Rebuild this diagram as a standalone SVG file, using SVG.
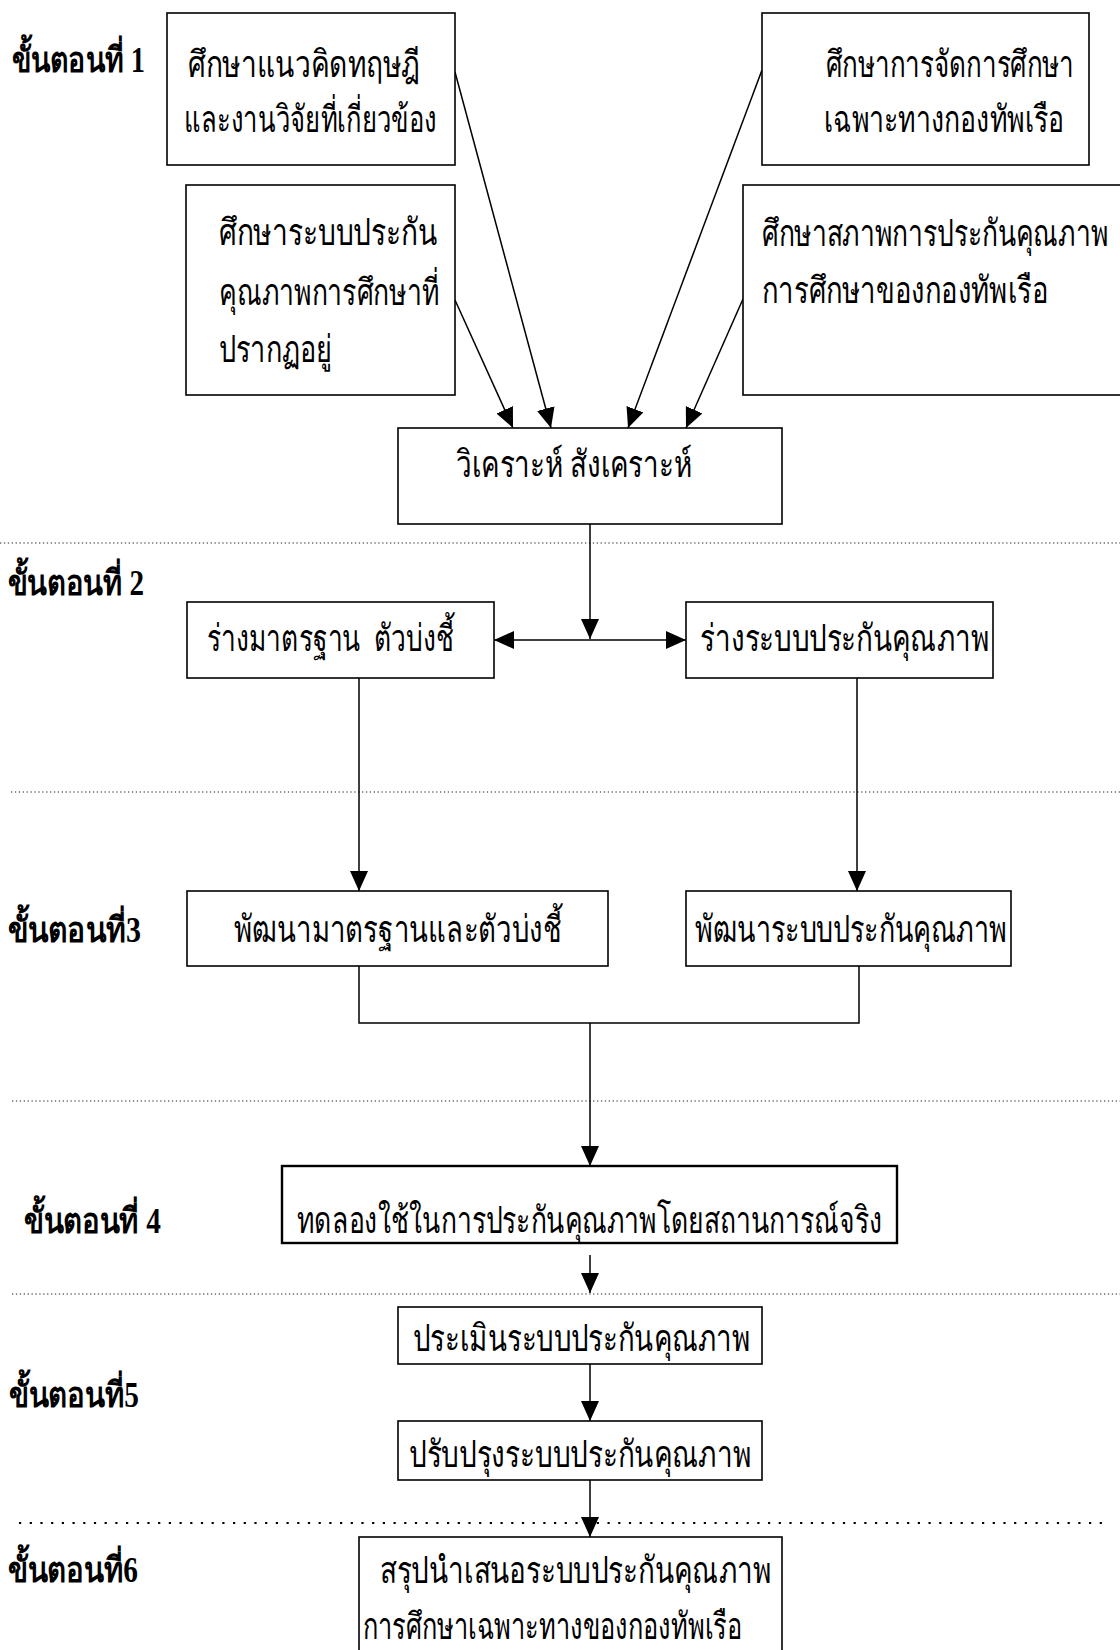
<svg xmlns="http://www.w3.org/2000/svg" width="1120" height="1650" viewBox="0 0 1120 1650">
<defs>
<marker id="ah" viewBox="0 0 20 18" refX="20" refY="9" markerWidth="20" markerHeight="18" markerUnits="userSpaceOnUse" orient="auto-start-reverse">
<path d="M0,0 L20,9 L0,18 z" fill="#000"/>
</marker>
<style>
.box{fill:#fff;stroke:#000;stroke-width:1.6}
.thick{stroke-width:2.4}
.t{font-family:"Liberation Serif","DejaVu Serif",serif;font-size:26px;fill:#000}
.lbl{font-family:"Liberation Serif","DejaVu Serif",serif;font-size:27px;font-weight:bold;fill:#000}
.ln{fill:none;stroke:#000;stroke-width:1.5}
.arr{marker-end:url(#ah)}
.dot{stroke:#222;stroke-width:1.2;stroke-dasharray:1.3 2.6;fill:none}
.dot2{stroke:#000;stroke-width:2.2;stroke-dasharray:2.2 8.5;fill:none}
</style>
</defs>
<rect width="1120" height="1650" fill="#fff"/>

<g id="separators">
<line class="dot" x1="0" y1="543" x2="1120" y2="543"/>
<line class="dot" x1="11" y1="792" x2="1120" y2="792"/>
<line class="dot" x1="12" y1="1101" x2="1120" y2="1101"/>
<line class="dot" x1="12" y1="1294" x2="1120" y2="1294"/>
<line class="dot2" x1="19" y1="1523" x2="1108" y2="1523"/>
</g>

<g id="labels">
<text class="lbl" transform="translate(12,72) scale(1,1.3)" textLength="133" lengthAdjust="spacingAndGlyphs">ขั้นตอนที่ 1</text>
<text class="lbl" transform="translate(8,595) scale(1,1.3)" textLength="136" lengthAdjust="spacingAndGlyphs">ขั้นตอนที่ 2</text>
<text class="lbl" transform="translate(8,942) scale(1,1.3)" textLength="133" lengthAdjust="spacingAndGlyphs">ขั้นตอนที่3</text>
<text class="lbl" transform="translate(24,1233) scale(1,1.3)" textLength="137" lengthAdjust="spacingAndGlyphs">ขั้นตอนที่ 4</text>
<text class="lbl" transform="translate(9,1407) scale(1,1.3)" textLength="130" lengthAdjust="spacingAndGlyphs">ขั้นตอนที่5</text>
<text class="lbl" transform="translate(8,1582) scale(1,1.3)" textLength="130" lengthAdjust="spacingAndGlyphs">ขั้นตอนที่6</text>
</g>

<g id="connectors">
<line class="ln arr" x1="455" y1="300" x2="513" y2="428"/>
<line class="ln arr" x1="455" y1="72" x2="551" y2="428"/>
<line class="ln arr" x1="762" y1="70" x2="628" y2="428"/>
<line class="ln arr" x1="743" y1="299" x2="686" y2="428"/>
<line class="ln arr" x1="590" y1="524" x2="590" y2="639"/>
<line class="ln" x1="494" y1="640" x2="686" y2="640" marker-start="url(#ah)" marker-end="url(#ah)"/>
<line class="ln arr" x1="359" y1="678" x2="359" y2="891"/>
<line class="ln arr" x1="857" y1="678" x2="857" y2="891"/>
<polyline class="ln" points="359,966 359,1023 859,1023 859,966"/>
<line class="ln arr" x1="590" y1="1023" x2="590" y2="1166"/>
<line class="ln arr" x1="590" y1="1255" x2="590" y2="1293"/>
<line class="ln arr" x1="590" y1="1364" x2="590" y2="1421"/>
<line class="ln arr" x1="590" y1="1480" x2="590" y2="1537"/>
</g>

<g id="n_theory">
<rect class="box" x="167" y="13" width="288" height="152"/>
<text class="t" transform="translate(188,77) scale(1,1.42)" textLength="232" lengthAdjust="spacingAndGlyphs">ศึกษาแนวคิดทฤษฎี</text>
<text class="t" transform="translate(184,132) scale(1,1.42)" textLength="253" lengthAdjust="spacingAndGlyphs">และงานวิจัยที่เกี่ยวข้อง</text>
</g>

<g id="n_navy_mgmt">
<rect class="box" x="762" y="13" width="327" height="152"/>
<text class="t" transform="translate(826,77) scale(1,1.42)" textLength="248" lengthAdjust="spacingAndGlyphs">ศึกษาการจัดการศึกษา</text>
<text class="t" transform="translate(824,132) scale(1,1.42)" textLength="240" lengthAdjust="spacingAndGlyphs">เฉพาะทางกองทัพเรือ</text>
</g>

<g id="n_qa_system">
<rect class="box" x="186" y="185" width="269" height="210"/>
<text class="t" transform="translate(219,245) scale(1,1.42)" textLength="218" lengthAdjust="spacingAndGlyphs">ศึกษาระบบประกัน</text>
<text class="t" transform="translate(219,305) scale(1,1.42)" textLength="220" lengthAdjust="spacingAndGlyphs">คุณภาพการศึกษาที่</text>
<text class="t" transform="translate(219,362) scale(1,1.42)" textLength="113" lengthAdjust="spacingAndGlyphs">ปรากฏอยู่</text>
</g>

<g id="n_qa_state">
<rect class="box" x="743" y="185" width="390" height="210"/>
<text class="t" transform="translate(762,246) scale(1,1.42)" textLength="346" lengthAdjust="spacingAndGlyphs">ศึกษาสภาพการประกันคุณภาพ</text>
<text class="t" transform="translate(762,303) scale(1,1.42)" textLength="286" lengthAdjust="spacingAndGlyphs">การศึกษาของกองทัพเรือ</text>
</g>

<g id="n_analysis">
<rect class="box" x="398" y="428" width="384" height="96"/>
<text class="t" transform="translate(456,477) scale(1,1.42)" textLength="236" lengthAdjust="spacingAndGlyphs">วิเคราะห์ สังเคราะห์</text>
</g>

<g id="n_draft_std">
<rect class="box" x="187" y="602" width="307" height="76"/>
<text class="t" xml:space="preserve" transform="translate(207,651) scale(1,1.42)" textLength="247" lengthAdjust="spacingAndGlyphs">ร่างมาตรฐาน  ตัวบ่งชี้</text>
</g>

<g id="n_draft_qa">
<rect class="box" x="686" y="602" width="307" height="76"/>
<text class="t" transform="translate(700,651) scale(1,1.42)" textLength="289" lengthAdjust="spacingAndGlyphs">ร่างระบบประกันคุณภาพ</text>
</g>

<g id="n_dev_std">
<rect class="box" x="187" y="891" width="421" height="75"/>
<text class="t" transform="translate(234,942) scale(1,1.42)" textLength="328" lengthAdjust="spacingAndGlyphs">พัฒนามาตรฐานและตัวบ่งชี้</text>
</g>

<g id="n_dev_qa">
<rect class="box" x="686" y="891" width="325" height="75"/>
<text class="t" transform="translate(695,942) scale(1,1.42)" textLength="312" lengthAdjust="spacingAndGlyphs">พัฒนาระบบประกันคุณภาพ</text>
</g>

<g id="n_trial">
<rect class="box thick" x="282" y="1166" width="615" height="77"/>
<text class="t" transform="translate(297,1233) scale(1,1.42)" textLength="585" lengthAdjust="spacingAndGlyphs">ทดลองใช้ในการประกันคุณภาพโดยสถานการณ์จริง</text>
</g>

<g id="n_evaluate">
<rect class="box" x="398" y="1307" width="364" height="57"/>
<text class="t" transform="translate(413,1351) scale(1,1.42)" textLength="337" lengthAdjust="spacingAndGlyphs">ประเมินระบบประกันคุณภาพ</text>
</g>

<g id="n_improve">
<rect class="box" x="398" y="1421" width="364" height="59"/>
<text class="t" transform="translate(409,1467) scale(1,1.42)" textLength="342" lengthAdjust="spacingAndGlyphs">ปรับปรุงระบบประกันคุณภาพ</text>
</g>

<g id="n_conclude">
<rect class="box" x="359" y="1537" width="423" height="130"/>
<text class="t" transform="translate(380,1583) scale(1,1.42)" textLength="391" lengthAdjust="spacingAndGlyphs">สรุปนำเสนอระบบประกันคุณภาพ</text>
<text class="t" transform="translate(363,1639) scale(1,1.42)" textLength="379" lengthAdjust="spacingAndGlyphs">การศึกษาเฉพาะทางของกองทัพเรือ</text>
</g>
</svg>
